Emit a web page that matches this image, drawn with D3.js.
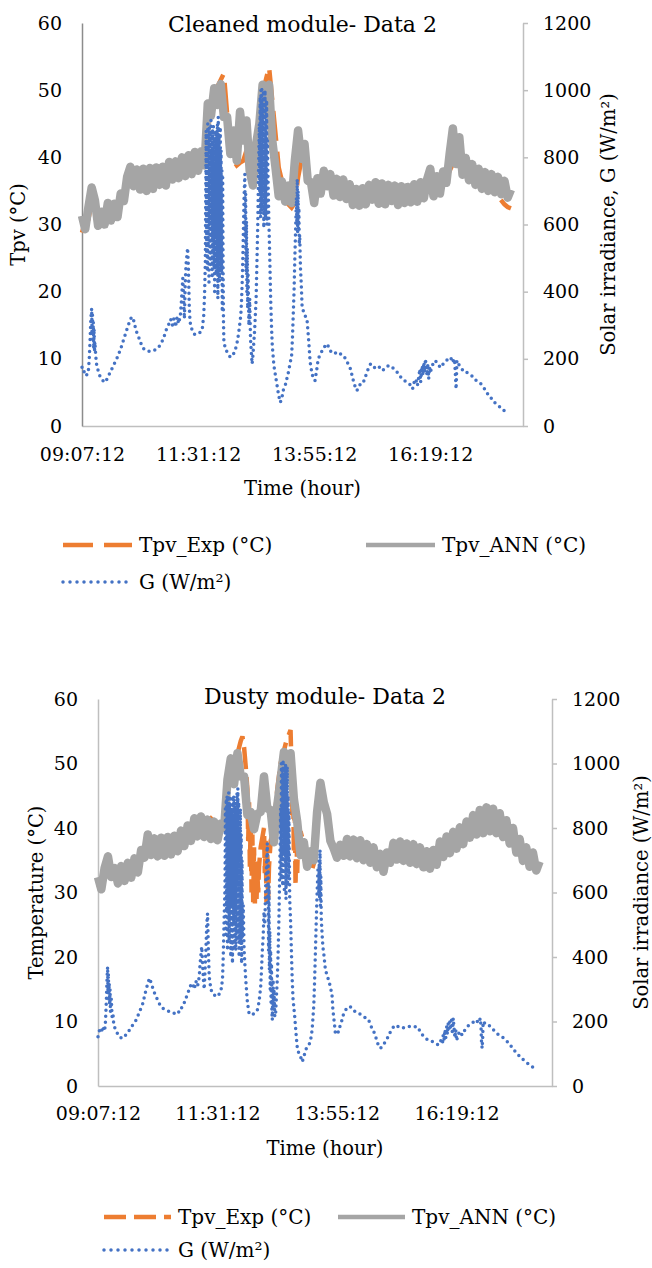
<!DOCTYPE html>
<html>
<head>
<meta charset="utf-8">
<script src="https://cdn.jsdelivr.net/npm/d3@7/dist/d3.min.js"></script>
<style>
body { margin: 0; background: #fff; }
svg text { font-family: "DejaVu Serif", "Liberation Serif", serif; font-size: 19px; fill: #000; }
</style>
</head>
<body>
<svg id="chart" width="652" height="1268"></svg>
<script>
// ---- data (minutes after 09:07:12) ----
var timeTicks = [0, 144, 288, 432];
var timeLabels = ["09:07:12", "11:31:12", "13:55:12", "16:19:12"];
var tempTicks = [0, 10, 20, 30, 40, 50, 60];
var irrTicks = [0, 200, 400, 600, 800, 1000, 1200];
var timeMax = 547;
var annStep = 4; // Tpv arrays below are sampled every 4 min

// cleaned module
var cleanAnn = [31.3,29.3,32.6,35.5,33.6,29.8,31.9,30.0,33.2,30.6,
  33.1,31.1,34.6,33.5,37.1,38.6,35.7,38.2,35.2,38.3,
  35.0,38.4,35.3,38.5,35.9,38.6,35.8,39.3,36.7,39.4,
  36.9,40.0,37.2,40.3,37.5,40.8,38.0,40.9,38.8,48.0,
  46.2,50.3,47.8,50.9,46.0,46.0,40.5,44.0,39.5,46.8,
  42.5,45.5,38.0,35.8,42.0,45.0,50.8,46.5,50.8,42.5,
  38.5,34.2,36.4,33.4,35.8,33.2,39.5,44.0,39.8,42.0,
  36.5,36.3,33.2,36.9,34.6,38.0,35.7,37.5,34.3,36.8,
  34.1,36.7,33.8,36.0,32.9,35.3,32.8,35.4,33.0,35.9,
  33.7,36.3,33.1,36.1,33.0,35.9,33.5,35.8,32.9,35.7,
  33.2,35.6,33.3,36.0,33.4,36.3,33.9,36.7,38.3,34.2,
  37.2,34.6,37.9,36.2,40.5,44.3,39.0,43.0,37.4,39.9,
  36.6,39.0,35.9,38.3,35.3,37.8,35.0,37.5,34.8,37.1,
  34.5,36.5,34.0,35.2];
var cleanExp = [28.8,30.5,30.8,33.5,32.2,31.0,30.8,31.2,31.4,31.6,
  31.8,32.3,33.2,34.2,35.6,36.8,36.8,36.6,36.4,36.5,
  36.4,36.6,36.6,37.0,37.2,37.1,37.3,37.8,38.0,37.9,
  38.2,38.5,38.6,38.8,38.8,39.2,39.5,39.5,40.0,44.0,
  47.0,49.0,50.5,51.5,52.5,46.5,42.0,39.5,38.8,39.2,
  39.5,41.0,39.0,37.0,40.0,45.0,49.0,51.5,53.5,48.5,
  43.5,38.5,36.5,34.8,33.0,32.5,33.2,37.0,39.5,38.5,
  37.0,35.6,35.0,35.3,35.6,36.0,36.0,35.8,35.5,35.3,
  35.3,35.0,35.0,34.6,34.0,33.8,33.9,34.0,34.3,34.5,
  34.8,34.7,34.5,34.5,34.3,34.4,34.6,34.3,34.2,34.3,
  34.4,34.3,34.5,34.6,34.6,34.8,35.0,35.3,35.8,35.6,
  35.8,36.0,36.5,37.0,38.0,39.0,39.5,39.0,38.3,38.0,
  37.6,37.2,36.8,36.5,36.2,35.9,35.6,35.2,34.8,34.2,
  33.6,33.0,32.6,32.4];
var cleanG = [[0,175],[2,160],[4,165],[6,152],[8,168],[9,200],[10,255],[11,320],[12,350],[12.5,270],
  [13,330],[13.5,250],[14,310],[14.5,230],[15,290],[15.5,220],[16,250],[17,210],[18,185],[20,165],
  [22,150],[24,140],[26,135],[29,130],[32,145],[36,165],[40,185],[44,205],[48,230],[52,260],
  [56,290],[60,318],[62,325],[64,315],[66,295],[68,278],[71,260],[74,240],[77,228],[80,224],
  [84,222],[88,224],[92,228],[96,238],[99,250],[102,268],[105,290],[108,305],[110,318],[112,300],
  [114,320],[116,295],[118,325],[120,305],[122,330],[123,360],[124,400],[125,440],[126,380],[127,320],
  [128,420],[129,480],[131,530],[132,470],[133,360],[134,310],[136,290],[138,278],[140,272],[143,275],
  [146,278],[149,285],[151,330],[152,390],[153,490],
  [153.5,700],[154,880],[154.5,520],[155,860],[155.5,460],[156,900],[156.5,540],[157,840],[157.5,420],
  [158,890],[158.5,600],[159,870],[159.5,480],[160,910],[160.5,560],[161,820],[161.5,440],[162,880],
  [162.5,520],[163,900],[163.5,470],[164,850],[164.5,400],[165,760],[165.5,560],[166,880],[166.5,450],
  [167,830],[167.5,560],[168,900],[168.5,380],[169,920],[169.5,500],[170,860],[170.5,430],[171,700],
  [171.5,890],[172,600],[172.5,820],[173,460],[173.5,760],[174,340],[174.5,740],[175,480],[175.5,310],
  [176,250],[178,230],[181,215],[184,205],[187,210],[190,225],[193,255],[195,290],[197,330],[198,380],
  [199,450],[200,560],[201,680],[202,750],[202.5,560],[203,690],[203.5,460],[204,610],[204.5,400],
  [205,530],[205.5,350],[206,450],[207,300],[208,380],[209,260],[210,220],[211,185],[212,210],[214,280],
  [216,380],[217,490],[218,600],[219,760],[220,900],[220.5,700],[221,980],[221.5,620],[222,1000],
  [222.5,760],[223,1010],[223.5,640],[224,960],[224.5,700],[225,1000],[225.5,590],[226,930],[226.5,680],
  [227,1000],[227.5,620],[228,900],[228.5,720],[229,970],[229.5,600],[230,850],[231,700],[232,590],
  [233,490],[234,380],[235,300],[236,240],[238,180],[240,150],[242,120],[244,90],[246,70],[248,85],
  [250,110],[252,120],[254,140],[256,160],[258,185],[260,210],[261,260],[262,330],[263,400],[264,500],
  [265,590],[266,680],[266.5,600],[267,735],[267.5,570],[268,700],[268.5,580],[269,650],[269.5,540],
  [270,570],[271,470],[272,420],[273,355],[276,330],[279,320],[281,260],[283,190],[285,160],[287,140],
  [289,135],[291,165],[293,200],[296,215],[299,230],[302,240],[304,245],[306,235],[309,220],[312,215],
  [315,218],[318,212],[321,215],[324,210],[327,200],[330,185],[333,170],[336,140],[339,115],[341,105],
  [344,120],[347,130],[349,130],[352,150],[355,170],[358,185],[361,180],[364,170],[366,170],[369,175],
  [372,165],[376,170],[379,178],[382,180],[385,175],[388,165],[391,160],[394,150],[397,140],[400,135],
  [403,130],[406,125],[408,120],[410,110],[412,130],[414,140],[416,120],[418,150],[419,170],[420,130],
  [421,160],[422,180],[423,150],[424,190],[425,160],[426,200],[427,170],[428,150],[429,185],[430,140],
  [431,175],[432,160],[434,175],[436,190],[438,195],[440,190],[442,185],[444,175],[446,175],[448,185],
  [450,190],[452,195],[454,200],[456,205],[458,200],[460,205],[461,185],[462,200],[463,160],[464,110],
  [464.5,150],[465,195],[466,190],[468,180],[471,170],[474,160],[477,160],[480,155],[483,150],[486,145],
  [489,135],[492,130],[495,125],[498,115],[501,105],[504,92],[507,85],[510,72],[513,68],[516,62],
  [519,55],[522,48],[524,45]];

// dusty module
var dustyAnn = [32.4,30.5,33.8,35.6,32.4,33.8,31.4,34.1,31.8,34.6,
  32.3,35.3,33.1,36.6,35.4,39.0,35.8,38.4,35.6,38.5,
  35.7,38.6,35.9,38.8,36.4,39.6,37.2,40.4,38.0,41.5,
  38.7,41.8,38.6,41.3,38.3,41.0,38.1,40.7,40.0,47.5,
  50.8,46.8,51.6,48.0,48.0,42.0,42.5,39.8,42.2,42.5,
  48.0,43.0,42.8,37.8,43.5,47.5,51.8,49.0,51.6,44.5,
  41.0,35.8,37.8,34.0,36.4,35.0,42.5,47.0,44.0,42.2,
  38.0,36.8,35.4,37.4,35.7,38.3,35.6,38.2,35.3,38.1,
  35.0,37.5,34.6,37.0,33.9,36.0,33.2,36.2,34.6,37.7,
  35.1,37.9,34.9,37.6,34.6,37.5,34.4,37.0,33.9,36.4,
  33.7,36.6,34.3,37.9,35.5,38.7,36.1,39.4,36.8,40.1,
  37.5,41.0,38.5,42.0,39.0,42.8,39.2,43.2,39.5,43.0,
  39.2,42.3,38.6,41.2,37.6,40.0,36.2,38.3,34.9,37.0,
  34.0,36.2,33.4,34.8];
var dustyExp = [[0,30.8],[4,31.5],[8,32.2],[12,33.5],[16,33.0],[20,32.4],[24,32.5],[28,32.7],[32,33.0],[36,33.3],
  [40,33.6],[44,34.2],[48,34.6],[52,35.4],[56,36.5],[60,37.6],[64,38.2],[68,38.5],[72,38.3],[76,37.8],
  [80,37.5],[84,37.4],[88,37.4],[92,37.6],[96,37.9],[100,38.3],[104,38.7],[108,39.2],[112,39.7],[116,40.1],
  [120,40.3],[124,40.5],[128,40.6],[132,41.0],[136,41.5],[140,41.0],[144,40.5],[148,40.6],[152,42.0],[156,46.0],
  [160,48.5],[164,50.0],[168,51.5],[172,53.5],[174,54.2],[176,52.5],[178,49.5],[180,46.0],[181,38],[182,44],
  [183,34],[184,41],[185,30],[186,39],[187,28.5],[188,37],[189,28.3],[190,35],[191,29],[192,33],
  [193,30],[194,34],[196,37],[198,38.5],[200,40],[201,33],[202,38],[203,28.5],[204,36],[205,29],
  [206,34],[207,36],[208,38],[210,39],[212,40],[214,43],[216,46],[218,48],[220,50],[222,51],
  [224,52],[226,53],[228,54],[230,54.5],[232,55.2],[233,50],[234,42],[235,48],[236,36],[237,45],
  [238,31],[239,40],[240,33],[241,38],[242,36],[244,39.5],[246,38.5],[248,37.5],[250,36],[252,34.5],
  [254,33.6],[256,33.5],[258,33.6],[260,34.5],[262,37],[264,40.5],[268,44],[272,44.5],[276,41.8],[280,38.5],
  [284,37.5],[288,37.2],[292,37.0],[296,37.1],[300,37.2],[304,37.3],[308,37.0],[312,36.9],[316,36.8],[320,36.4],
  [324,36.1],[328,35.8],[332,35.4],[336,35.0],[340,34.8],[344,34.9],[348,35.2],[352,35.8],[356,36.3],[360,36.5],
  [364,36.5],[372,36.2],[380,36.1],[388,35.6],[396,35.1],[404,35.3],[412,36.4],[420,37.2],[428,38.0],[436,38.7],
  [444,39.5],[452,40.4],[460,40.9],[468,41.2],[476,41.0],[484,40.5],[492,39.6],[500,38.2],[508,36.6],[516,35.6],
  [524,34.8],[532,34.0]];
var dustyG = [[0,153],[2,175],[4,168],[6,185],[8,170],[9,200],[10,260],[11,340],[11.6,370],[12,300],
  [12.5,350],[13,270],[13.5,320],[14,250],[14.5,300],[15,230],[16,270],[17,215],[18,225],[19,190],
  [21,175],[24,160],[27,150],[30,148],[34,160],[38,174],[42,190],[46,205],[50,230],[54,256],
  [58,300],[62,334],[64,320],[67,295],[70,277],[74,255],[78,241],[82,235],[86,231],[90,226],
  [94,225],[96,232],[98,228],[100,240],[102,246],[105,265],[108,287],[110,300],[112,315],[114,318],
  [116,300],[118,325],[120,310],[122,339],[123,380],[125,432],[126,380],[127,330],[128,300],[130,420],
  [131,500],[132,535],[133,420],[134,339],[136,300],[138,287],[141,280],[144,277],[146,285],[148,293],
  [150,330],[151,411],[152,520],[153,618],
  [153.5,860],[154,470],[154.5,890],[155,540],[155.5,900],[156,420],[156.5,870],[157,600],[157.5,910],
  [158,450],[158.5,880],[159,520],[159.5,900],[160,400],[160.5,860],[161,560],[161.5,890],[162,380],
  [162.5,820],[163,500],[163.5,900],[164,430],[164.5,880],[165,550],[165.5,860],[166,420],[166.5,700],
  [167,480],[167.5,910],[168,620],[168.5,923],[169,450],[169.5,880],[170,400],[170.5,800],[171,520],
  [171.5,860],[172,440],[172.5,780],[173,380],[173.5,700],[174,460],[175,560],[176,422],[178,330],
  [180,260],[182,225],[184,222],[186,220],[189,228],[192,236],[194,260],[196,308],[197,360],[198,420],
  [199,463],[200,540],[201,500],[202,618],[203,680],[204,753],[204.5,560],[205,700],[205.5,420],[206,620],
  [206.5,360],[207,480],[207.5,300],[208,420],[208.5,260],[209,380],[209.5,230],[210,205],[211,330],
  [211.5,240],[212,300],[213,215],[214,225],[215,280],[216,330],[217,411],[218,520],[219,670],[220,860],
  [220.5,640],[221,1000],[221.5,700],[222,980],[222.5,620],[223,1011],[223.5,720],[224,960],[224.5,600],
  [225,990],[225.5,680],[226,1000],[226.5,580],[227,940],[227.5,700],[228,990],[228.5,620],[229,900],
  [229.5,650],[230,850],[231,577],[232,515],[233,420],[234,329],[235,270],[237,215],[239,150],[240,122],
  [242,100],[244,91],[246,75],[248,90],[250,112],[252,120],[254,127],[256,140],[258,174],[260,250],
  [261,329],[262,420],[263,515],[264,600],[265,670],[266,600],[266.5,700],[267,580],[267.5,732],[268,560],
  [268.5,650],[269,520],[270,470],[271,430],[272,411],[274,360],[277,335],[280,308],[282,280],[283,236],
  [285,190],[286,163],[288,160],[290,170],[292,190],[294,205],[296,225],[298,235],[300,240],[302,246],
  [304,246],[307,238],[310,230],[314,225],[318,220],[322,212],[326,205],[329,185],[332,170],[334,158],
  [336,140],[338,125],[340.5,117],[343,125],[346.5,138],[349,150],[352.5,169],[355,180],[358.5,189],[362,184],
  [366.5,179],[370,182],[374,184],[378,185],[381,183],[384.6,184],[388,170],[391,158],[394.6,148],[398,142],
  [402.6,138],[406,132],[410.6,127],[413,140],[415,130],[416,160],[417,145],[418,175],[419,150],[420,185],
  [421,160],[422,195],[423,170],[424,200],[425,175],[426,205],[427,160],[428,210],[429,180],[430,150],
  [431,175],[432,140],[434,160],[436,170],[438.7,158],[441,170],[444,180],[447,190],[450.7,194],[453,200],
  [456,205],[458,195],[460.8,210],[461.5,180],[462,140],[462.8,117],[463.5,150],[464,200],[466,195],[468,190],
  [470.8,189],[474,180],[478,170],[482,160],[486.8,153],[490,145],[493,138],[496.8,127],[500,115],[504.9,101],
  [508,92],[511,85],[515,75],[519,68],[523,60],[526,55],[529,50]];

// ---- colours ----
var colExp = "#ED7D31", colAnn = "#A5A5A5", colG = "#4472C4";

var svg = d3.select("#chart");

var panels = [
  { left: 82, right: 523, top: 23, bottom: 426, leftAxisColor: "#8c8c8c",
    title: "Cleaned module- Data 2", titleY: 31.7,
    yTitle: "Tpv (\u00B0C)", yTitleX: 25,
    gTitle: "Solar irradiance, G (W/m\u00B2)", gTitleX: 615,
    xTitleY: 495, tickPad: 21.5, expDash: "30,11",
    ann: cleanAnn, exp: cleanExp.map(function(v, i){ return [i * annStep, v]; }), irr: cleanG,
    legend: { y1: 545, y2: 582, x1: 62, x2: 365, len: 70 } },
  { left: 98, right: 552, top: 699, bottom: 1086, leftAxisColor: "#bfbfbf",
    title: "Dusty module- Data 2", titleY: 704,
    yTitle: "Temperature (\u00B0C)", yTitleX: 43,
    gTitle: "Solar irradiance (W/m\u00B2)", gTitleX: 648,
    xTitleY: 1155, tickPad: 20.5, expDash: "22,8",
    ann: dustyAnn, exp: dustyExp, irr: dustyG,
    legend: { y1: 1217, y2: 1250, x1: 103, x2: 337, len: 68 } }
];

panels.forEach(drawPanel);

function drawPanel(p){
    var x = d3.scaleLinear().domain([0, timeMax]).range([p.left, p.right]);
    var yT = d3.scaleLinear().domain([0, 60]).range([p.bottom, p.top]);
    var yG = d3.scaleLinear().domain([0, 1200]).range([p.bottom, p.top]);
    var g = svg.append("g");

    // axes
    var ax = g.append("g")
              .attr("transform", "translate(0," + p.bottom + ")")
              .call(d3.axisBottom(x).tickValues(timeTicks)
                      .tickFormat(function(d, i){ return timeLabels[i]; })
                      .tickSize(0).tickSizeOuter(0).tickPadding(p.tickPad));
    ax.select(".domain").attr("stroke", "#bfbfbf").attr("stroke-width", 1.5);

    var al = g.append("g")
              .attr("transform", "translate(" + p.left + ",0)")
              .call(d3.axisLeft(yT).tickValues(tempTicks).tickSize(0).tickSizeOuter(0).tickPadding(20));
    al.select(".domain").attr("stroke", p.leftAxisColor).attr("stroke-width", 1.5);

    var ar = g.append("g")
              .attr("transform", "translate(" + p.right + ",0)")
              .call(d3.axisRight(yG).tickValues(irrTicks).tickFormat(d3.format("d"))
                      .tickSize(5).tickSizeOuter(0).tickPadding(15));
    ar.select(".domain").attr("stroke", "#bfbfbf").attr("stroke-width", 1.5);
    ar.selectAll(".tick line").attr("stroke", "#bfbfbf").attr("stroke-width", 1.5);

    // series: Exp under ANN, G on top
    var lineT = d3.line().x(function(d){ return x(d[0]); }).y(function(d){ return yT(d[1]); });
    var lineG = d3.line().x(function(d){ return x(d[0]); }).y(function(d){ return yG(d[1]); });

    g.append("path").datum(p.exp)
     .attr("d", lineT).attr("fill", "none")
     .attr("stroke", colExp).attr("stroke-width", 4.5)
     .attr("stroke-dasharray", p.expDash);

    // noisy ANN trace drawn thick so it reads as a band
    g.append("path").datum(p.ann.map(function(v, i){ return [i * annStep, v]; }))
     .attr("d", lineT).attr("fill", "none")
     .attr("stroke", colAnn).attr("stroke-width", 8.5)
     .attr("stroke-linejoin", "round");

    g.append("path").datum(p.irr)
     .attr("d", lineG).attr("fill", "none")
     .attr("stroke", colG).attr("stroke-width", 3.5)
     .attr("stroke-linecap", "round")
     .attr("stroke-dasharray", "0,6");

    // titles
    var cx = (p.left + p.right) / 2;
    g.append("text").attr("x", cx).attr("y", p.titleY)
     .attr("text-anchor", "middle").style("font-size", "22px").text(p.title);
    g.append("text").attr("x", cx).attr("y", p.xTitleY)
     .attr("text-anchor", "middle").style("font-size", "19.5px").text("Time (hour)");
    var cy = (p.top + p.bottom) / 2;
    g.append("text").attr("text-anchor", "middle").style("font-size", "19.5px")
     .attr("transform", "translate(" + p.yTitleX + "," + cy + ") rotate(-90)")
     .text(p.yTitle);
    g.append("text").attr("text-anchor", "middle").style("font-size", "19.5px")
     .attr("transform", "translate(" + p.gTitleX + "," + cy + ") rotate(-90)")
     .text(p.gTitle);

    // legend
    var L = p.legend;
    var items = [
        { x: L.x1, y: L.y1, label: "Tpv_Exp (\u00B0C)", color: colExp, w: 4.5, dash: p.expDash, cap: "butt" },
        { x: L.x2, y: L.y1, label: "Tpv_ANN (\u00B0C)", color: colAnn, w: 4.5, dash: null, cap: "butt" },
        { x: L.x1, y: L.y2, label: "G (W/m\u00B2)", color: colG, w: 3.5, dash: "0,7", cap: "round" }
    ];
    items.forEach(function(it){
        g.append("line").attr("x1", it.x + 1).attr("x2", it.x + L.len)
         .attr("y1", it.y).attr("y2", it.y)
         .attr("stroke", it.color).attr("stroke-width", it.w)
         .attr("stroke-linecap", it.cap)
         .attr("stroke-dasharray", it.dash);
        g.append("text").attr("x", it.x + L.len + 7).attr("y", it.y)
         .attr("dy", "0.35em").style("font-size", "20px").text(it.label);
    });
}
</script>
</body>
</html>
